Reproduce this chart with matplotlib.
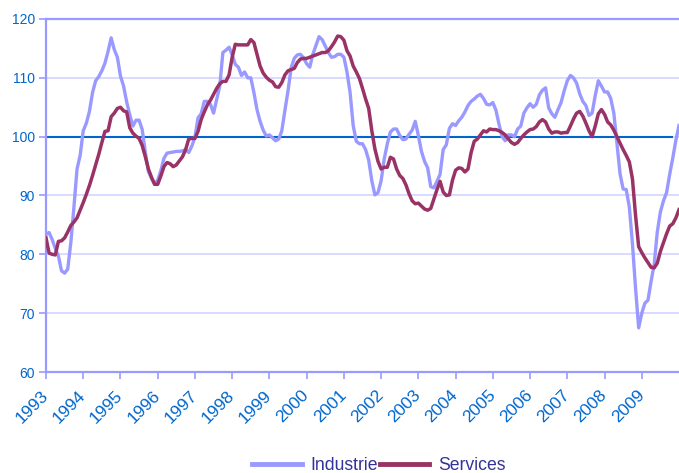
import numpy as np
import matplotlib
matplotlib.use("Agg")
import matplotlib.pyplot as plt

plt.rcParams["font.family"] = ["Liberation Sans", "DejaVu Sans"]

# ───── données mensuelles (janv. 1993 – janv. 2010) ─────
years = list(range(1993, 2010))

industrie = [
    83.4, 83.7, 82.5, 81.0, 79.7, 77.2, 76.8, 77.5, 82.0, 88.0, 94.5, 96.8,       # 1993
    101.0, 102.3, 104.3, 107.5, 109.5, 110.2, 111.2, 112.5, 114.5, 116.8, 114.8, 113.5,  # 1994
    110.3, 108.6, 105.9, 103.7, 101.8, 102.8, 102.8, 101.2, 97.4, 94.1, 92.9, 92.0,  # 1995
    92.6, 94.2, 96.3, 97.2, 97.3, 97.4, 97.5, 97.5, 97.6, 97.8, 97.3, 98.4,        # 1996
    99.9, 103.2, 103.9, 106.0, 106.0, 105.5, 104.0, 106.3, 108.6, 114.3, 114.7, 115.2,  # 1997
    113.9, 112.3, 111.8, 110.4, 111.0, 110.0, 110.0, 107.5, 104.6, 102.6, 101.1, 100.1,  # 1998
    100.3, 99.8, 99.3, 99.6, 101.0, 104.5, 107.8, 111.7, 113.3, 113.9, 114.0, 113.4,  # 1999
    112.4, 111.8, 114.0, 115.5, 117.0, 116.5, 115.4, 114.3, 113.5, 113.6, 114.0, 114.0,  # 2000
    113.5, 111.0, 107.5, 101.9, 99.2, 98.8, 98.8, 97.8, 96.0, 92.5, 90.1, 90.5,    # 2001
    92.5, 96.2, 98.8, 100.8, 101.3, 101.3, 100.2, 99.5, 99.6, 100.4, 101.1, 102.6,  # 2002
    100.2, 97.5, 95.8, 94.7, 91.5, 91.3, 92.4, 93.6, 97.8, 98.6, 101.4, 102.2,     # 2003
    101.9, 102.7, 103.3, 104.2, 105.3, 106.0, 106.4, 106.9, 107.2, 106.5, 105.5, 105.4,  # 2004
    105.8, 104.5, 102.1, 100.0, 99.3, 100.3, 100.3, 100.0, 101.3, 101.8, 104.0, 104.9,  # 2005
    105.6, 105.0, 105.5, 107.1, 107.9, 108.3, 104.9, 103.9, 103.3, 104.6, 105.8, 107.8,  # 2006
    109.5, 110.4, 110.0, 109.1, 107.3, 106.0, 105.3, 103.6, 104.0, 107.0, 109.5, 108.6,  # 2007
    107.6, 107.6, 106.5, 104.0, 98.9, 93.7, 91.1, 91.0, 88.0, 81.8, 74.2, 67.5,    # 2008
    70.0, 71.7, 72.2, 75.4, 78.3, 83.8, 87.2, 89.1, 90.5, 93.6, 96.4, 99.4,        # 2009
    101.9,                                                                         # 2010
]

services = [
    82.8, 80.2, 80.0, 79.9, 82.2, 82.3, 82.8, 83.8, 84.9, 85.5, 86.2, 87.5,        # 1993
    88.8, 90.2, 91.7, 93.4, 95.2, 97.0, 99.0, 100.9, 101.0, 103.4, 104.0, 104.8,   # 1994
    105.0, 104.4, 104.2, 101.5, 100.6, 100.1, 99.7, 98.5, 96.6, 94.5, 93.1, 91.9,  # 1995
    91.9, 93.3, 94.9, 95.6, 95.4, 94.9, 95.2, 95.9, 96.6, 97.8, 99.6, 99.7,        # 1996
    99.7, 100.9, 102.9, 104.2, 105.4, 106.2, 107.2, 108.2, 109.0, 109.4, 109.4, 110.5,  # 1997
    113.5, 115.7, 115.6, 115.6, 115.6, 115.6, 116.5, 116.0, 114.0, 112.0, 110.8, 110.1,  # 1998
    109.6, 109.3, 108.5, 108.4, 109.2, 110.5, 111.2, 111.4, 111.6, 112.6, 113.2, 113.3,  # 1999
    113.3, 113.5, 113.7, 113.9, 114.1, 114.3, 114.3, 114.6, 115.3, 116.1, 117.1, 117.0,  # 2000
    116.4, 114.6, 113.7, 112.0, 111.0, 109.9, 108.2, 106.4, 104.8, 101.0, 97.9, 95.8,  # 2001
    94.5, 94.8, 94.8, 96.5, 96.2, 94.5, 93.4, 92.9, 91.8, 90.3, 89.1, 88.6,        # 2002
    88.7, 88.2, 87.7, 87.5, 87.8, 89.4, 91.0, 92.4, 90.6, 90.0, 90.1, 92.6,        # 2003
    94.3, 94.7, 94.6, 94.0, 94.5, 97.3, 99.2, 99.6, 100.3, 101.0, 100.8, 101.3,    # 2004
    101.2, 101.2, 101.0, 100.7, 100.3, 99.6, 99.0, 98.7, 99.0, 99.7, 100.3, 100.8,  # 2005
    101.2, 101.3, 101.7, 102.5, 102.9, 102.5, 101.3, 100.6, 100.8, 100.8, 100.6, 100.7,  # 2006
    100.7, 101.8, 103.0, 104.0, 104.3, 103.5, 102.3, 101.0, 100.0, 101.8, 103.9, 104.6,  # 2007
    103.8, 102.5, 102.0, 101.1, 100.0, 98.9, 97.8, 96.8, 95.7, 92.8, 86.6, 81.3,   # 2008
    80.3, 79.4, 78.6, 77.8, 77.7, 78.5, 80.5, 82.0, 83.5, 84.8, 85.2, 86.2,        # 2009
    87.6,                                                                          # 2010
]

niveau_ref = 100      # base 100
fin_ref = 202         # la ligne de référence s'arrête un peu avant la fin

months = np.arange(len(industrie))

fig = plt.figure(figsize=(6.79, 4.73), dpi=100)
ax = fig.add_axes([46 / 679, 101 / 473, 633 / 679, 353 / 473])

ax.plot(months, industrie, color="#9999FF", lw=2.4, label="Industrie",
        solid_joinstyle="round", zorder=3)
ax.plot(months, services, color="#993366", lw=2.5, label="Services",
        solid_joinstyle="round", zorder=4)
ax.hlines(niveau_ref, 0, fin_ref, color="#0066CC", lw=1.5, zorder=2)

ax.set_xlim(0, len(industrie) - 1)
ax.set_ylim(60, 120)
ax.set_yticks(range(60, 121, 10))
ax.yaxis.grid(True, color="#D4D4FF", lw=1.2)
ax.set_axisbelow(True)

ax.set_xticks(np.arange(0, 12 * len(years), 12))
ax.set_xticklabels([str(y) for y in years], rotation=45, ha="right",
                   va="center", rotation_mode="anchor", fontsize=12.5)

for s in ["left", "bottom", "top"]:
    ax.spines[s].set_color("#9999FF")
    ax.spines[s].set_linewidth(1.6)
ax.spines["right"].set_visible(False)

ax.tick_params(axis="both", color="#9999FF", length=5, width=1.2,
               labelcolor="#0066CC")
ax.tick_params(axis="y", labelsize=10, pad=3)
ax.tick_params(axis="x", pad=10)

leg = fig.legend(loc="center", bbox_to_anchor=(0.558, 0.016), ncol=2,
                 frameon=False, fontsize=12.7, handlelength=2.8,
                 handletextpad=0.5, columnspacing=0.1)
for t in leg.get_texts():
    t.set_color("#333399")
for h in leg.get_lines():
    h.set_linewidth(3.5)

fig.savefig("out.png", dpi=100)
